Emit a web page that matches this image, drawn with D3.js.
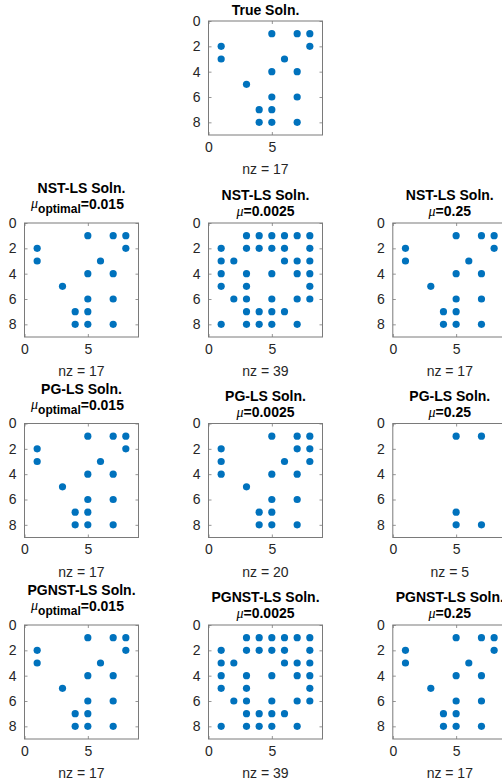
<!DOCTYPE html>
<html><head><meta charset="utf-8">
<script src="https://cdn.jsdelivr.net/npm/d3@7"></script>
<style>
body{margin:0;background:#fff;}
svg{display:block;}
text{font-family:"Liberation Sans",Arial,Helvetica,sans-serif;}
</style>
</head><body>
<svg id="chart" width="502" height="782"></svg>
<script>
// ---- data: nonzero entries as [column, row] ----
const xTicks = [0, 5];
const yTicks = [0, 2, 4, 6, 8];
const axisDomain = [0, 9];

const solTrue = [[5,1],[7,1],[8,1],[1,2],[8,2],[1,3],[6,3],[5,4],[7,4],[3,5],[5,6],[7,6],[4,7],[5,7],[4,8],[5,8],[7,8]];
const solNstOpt = [[5,1],[7,1],[8,1],[1,2],[8,2],[1,3],[6,3],[5,4],[7,4],[3,5],[5,6],[7,6],[4,7],[5,7],[4,8],[5,8],[7,8]];
const solNst0025 = [
  [3,1],[4,1],[5,1],[6,1],[7,1],[8,1],
  [1,2],[3,2],[4,2],[5,2],[6,2],[8,2],
  [1,3],[2,3],[6,3],[7,3],[8,3],
  [1,4],[3,4],[5,4],[7,4],[8,4],
  [1,5],[3,5],[8,5],
  [2,6],[3,6],[5,6],[7,6],[8,6],
  [3,7],[4,7],[5,7],[6,7],
  [1,8],[3,8],[4,8],[5,8],[7,8]];
const solNst025 = [[5,1],[7,1],[8,1],[1,2],[8,2],[1,3],[6,3],[5,4],[7,4],[3,5],[5,6],[7,6],[4,7],[5,7],[4,8],[5,8],[7,8]];
const solPgOpt = [[5,1],[7,1],[8,1],[1,2],[8,2],[1,3],[6,3],[5,4],[7,4],[3,5],[5,6],[7,6],[4,7],[5,7],[4,8],[5,8],[7,8]];
const solPg0025 = [
  [5,1],[7,1],[8,1],
  [1,2],[7,2],[8,2],
  [1,3],[6,3],[8,3],
  [1,4],[5,4],[7,4],
  [3,5],
  [5,6],[7,6],
  [4,7],[5,7],
  [4,8],[5,8],[7,8]];
const solPg025 = [[5,1],[7,1],[5,7],[5,8],[7,8]];
const solPgnstOpt = [[5,1],[7,1],[8,1],[1,2],[8,2],[1,3],[6,3],[5,4],[7,4],[3,5],[5,6],[7,6],[4,7],[5,7],[4,8],[5,8],[7,8]];
const solPgnst0025 = [
  [3,1],[4,1],[5,1],[6,1],[7,1],[8,1],
  [1,2],[3,2],[4,2],[5,2],[6,2],[8,2],
  [1,3],[2,3],[6,3],[7,3],[8,3],
  [1,4],[3,4],[5,4],[7,4],[8,4],
  [1,5],[3,5],[8,5],
  [2,6],[3,6],[5,6],[7,6],[8,6],
  [3,7],[4,7],[5,7],[6,7],
  [1,8],[3,8],[4,8],[5,8],[7,8]];
const solPgnst025 = [[5,1],[7,1],[8,1],[1,2],[8,2],[1,3],[6,3],[5,4],[7,4],[3,5],[5,6],[7,6],[4,7],[5,7],[4,8],[5,8],[7,8]];

const titles = ["True Soln.", "NST-LS Soln.", "PG-LS Soln.", "PGNST-LS Soln."];
const muValues = ["0.015", "0.0025", "0.25"];

const panels = [
  {title: titles[0], mu: null, opt: false, data: solTrue, row: 0, col: 1},
  {title: titles[1], mu: muValues[0], opt: true,  data: solNstOpt, row: 1, col: 0},
  {title: titles[1], mu: muValues[1], opt: false, data: solNst0025, row: 1, col: 1},
  {title: titles[1], mu: muValues[2], opt: false, data: solNst025, row: 1, col: 2},
  {title: titles[2], mu: muValues[0], opt: true,  data: solPgOpt, row: 2, col: 0},
  {title: titles[2], mu: muValues[1], opt: false, data: solPg0025, row: 2, col: 1},
  {title: titles[2], mu: muValues[2], opt: false, data: solPg025, row: 2, col: 2},
  {title: titles[3], mu: muValues[0], opt: true,  data: solPgnstOpt, row: 3, col: 0},
  {title: titles[3], mu: muValues[1], opt: false, data: solPgnst0025, row: 3, col: 1},
  {title: titles[3], mu: muValues[2], opt: false, data: solPgnst025, row: 3, col: 2}
];

// ---- layout ----
const colX = [24.5, 208.5, 392.8];
const rowY = [21, 223, 423.5, 625];
const W = 114, H = 114;
const svg = d3.select("#chart");
const dotColor = "#0072BD";
const boxColor = "#7a7a7a";
const tickText = "#262626";

panels.forEach(p => {
  const g = svg.append("g").attr("transform", `translate(${colX[p.col]},${rowY[p.row]})`);
  const x = d3.scaleLinear().domain(axisDomain).range([0, W]);
  const y = d3.scaleLinear().domain(axisDomain).range([0, H]);

  // axes
  const styleAxis = (sel, labels) => {
    sel.select(".domain").remove();
    sel.selectAll(".tick line").attr("stroke", boxColor).attr("stroke-width", 0.8);
    sel.selectAll(".tick text").attr("fill", tickText).style("font-size", "14px");
    if (!labels) sel.selectAll(".tick text").remove();
  };
  g.append("g").attr("transform", `translate(0,${H})`)
    .call(d3.axisBottom(x).tickValues(xTicks).tickSize(-3).tickPadding(7).tickFormat(d3.format("d")))
    .call(s => styleAxis(s, true));
  g.append("g")
    .call(d3.axisTop(x).tickValues(xTicks).tickSize(-3))
    .call(s => styleAxis(s, false));
  g.append("g")
    .call(d3.axisLeft(y).tickValues(yTicks).tickSize(-3).tickPadding(8).tickFormat(d3.format("d")))
    .call(s => styleAxis(s, true));
  g.append("g").attr("transform", `translate(${W},0)`)
    .call(d3.axisRight(y).tickValues(yTicks).tickSize(-3))
    .call(s => styleAxis(s, false));

  // box
  g.append("rect").attr("x", 0).attr("y", 0).attr("width", W).attr("height", H)
    .attr("fill", "none").attr("stroke", boxColor).attr("stroke-width", 1);

  // dots
  g.selectAll("circle.nz").data(p.data).join("circle")
    .attr("class", "nz")
    .attr("cx", d => x(d[0])).attr("cy", d => y(d[1]))
    .attr("r", 3.6).attr("fill", dotColor);

  // nz label
  g.append("text").attr("x", W / 2).attr("y", H + 39)
    .attr("text-anchor", "middle").attr("fill", tickText)
    .style("font-size", "14px")
    .text(`nz = ${p.data.length}`);

  // titles
  if (p.mu === null) {
    g.append("text").attr("x", W / 2).attr("y", -6)
      .attr("text-anchor", "middle").style("font-size", "14px").style("font-weight", "bold")
      .text(p.title);
  } else if (p.opt) {
    g.append("text").attr("x", W / 2).attr("y", -30)
      .attr("text-anchor", "middle").style("font-size", "14px").style("font-weight", "bold")
      .text(p.title);
    const t = g.append("text").attr("x", W / 2 - 4).attr("y", -14)
      .attr("text-anchor", "middle").style("font-size", "14px");
    t.append("tspan").text("\u03BC")
      .style("font-family", "'Liberation Serif','DejaVu Serif',serif")
      .style("font-style", "italic").style("font-weight", "normal").attr("dy", -1);
    t.append("tspan").text("optimal").style("font-weight", "bold")
      .style("font-size", "12px").attr("dy", 5);
    t.append("tspan").text(`=${p.mu}`).style("font-weight", "bold").attr("dy", -4);
  } else {
    g.append("text").attr("x", W / 2).attr("y", -23)
      .attr("text-anchor", "middle").style("font-size", "14px").style("font-weight", "bold")
      .text(p.title);
    const t = g.append("text").attr("x", W / 2).attr("y", -7)
      .attr("text-anchor", "middle").style("font-size", "14px");
    t.append("tspan").text("\u03BC")
      .style("font-family", "'Liberation Serif','DejaVu Serif',serif")
      .style("font-style", "italic").style("font-weight", "normal");
    t.append("tspan").text(`=${p.mu}`).style("font-weight", "bold");
  }
});
</script>
</body></html>
